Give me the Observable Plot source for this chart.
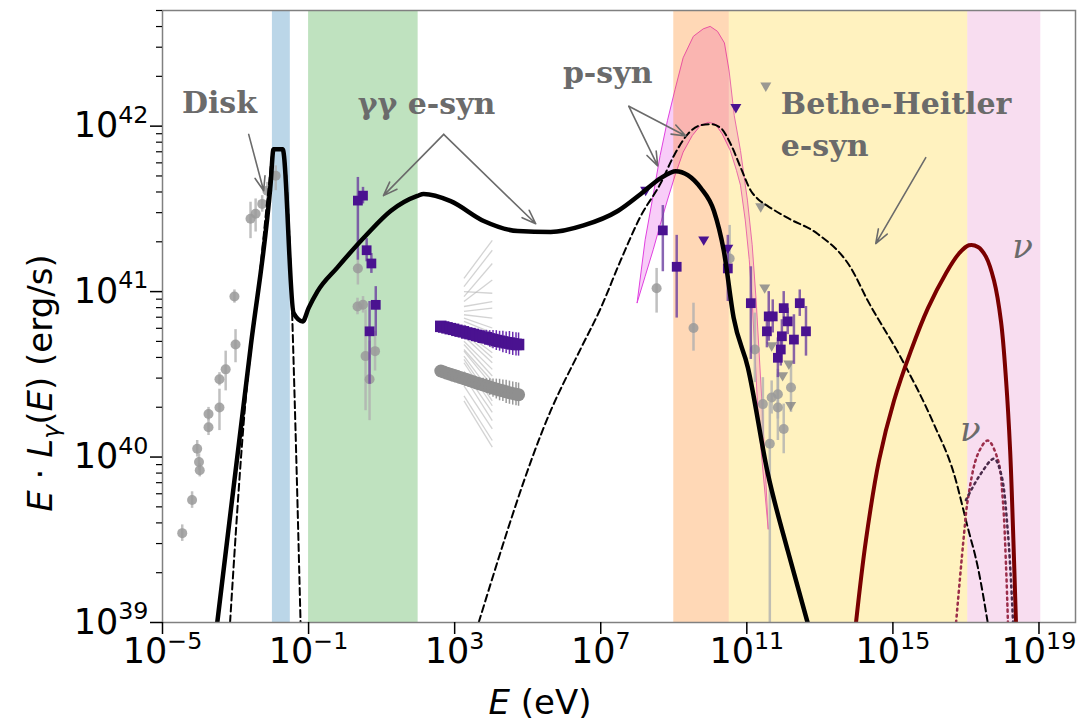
<!DOCTYPE html>
<html><head><meta charset="utf-8">
<script src="https://cdn.jsdelivr.net/npm/d3@7"></script>
<script src="https://cdn.jsdelivr.net/npm/@observablehq/plot@0.6"></script>
<style>body{margin:0;background:#fff;}</style>
</head><body><div id="chart"></div>
<script>
// ---- data (log10 E [eV], log10 E·L [erg/s]) ----
const xTicks = [1e-5, 1e-1, 1e3, 1e7, 1e11, 1e15, 1e19];
const yMajor = [1e39, 1e40, 1e41, 1e42];
const yMinor = [39, 40, 41, 42].flatMap(p => [2,3,4,5,6,7,8,9].map(m => m * 10 ** p)).filter(v => v <= 5e42);

const bandStart = [-1.99, -1.0, 9.0, 10.52, 17.05];
const bandEnd   = [-1.5, 2.0, 10.52, 17.05, 19.05];
const bandColor = ["#1f77b4", "#2ca02c", "#ff7f0e", "#ffd42a", "#e377c2"];
const bandAlpha = [0.3, 0.3, 0.3, 0.3, 0.25];

const totalCurve = [[-3.50,39.0],[-3.055,39.815],[-2.589,40.66],[-2.04,41.65],[-1.96,41.86],[-1.71,41.86],[-1.41,40.87],[-1.16,40.82],[-1.0,40.90],[-0.76,41.0],[-0.214,41.145],[0.608,41.348],[1.247,41.487],[1.978,41.578],[2.15,41.59],[2.89,41.547],[3.795,41.427],[4.726,41.366],[5.63,41.36],[6.53,41.40],[7.466,41.487],[8.096,41.59],[8.644,41.686],[9.055,41.728],[9.384,41.704],[9.74,41.626],[10.10,41.487],[10.37,41.246],[10.64,40.841],[11.03,40.54],[11.575,39.90],[12.12,39.435],[12.67,38.995]];
const diskCurve = [[-3.15,39.0],[-2.726,40.34],[-2.37,41.03],[-2.10,41.61],[-1.96,41.86],[-1.71,41.86],[-1.47,41.0],[-1.38,40.34],[-1.22,39.0]];
const hadronCurve = [[3.658,39.0],[5.63,40.28],[6.45,40.654],[7.0,40.90],[7.548,41.19],[8.096,41.457],[8.644,41.656],[9.0,41.82],[9.384,41.952],[9.74,42.006],[10.01,42.012],[10.29,41.988],[10.56,41.891],[10.836,41.747],[11.11,41.61],[11.30,41.56],[11.575,41.517],[12.12,41.445],[12.945,41.348],[13.85,41.143],[14.315,40.944],[15.22,40.60],[16.12,40.20],[16.67,39.90],[17.05,39.574],[17.33,39.33],[17.60,38.995]];
const nuCurve = [[13.99,39.0],[14.26,39.495],[14.62,39.98],[15.03,40.34],[15.49,40.64],[15.96,40.90],[16.45,41.11],[16.81,41.23],[17.08,41.28],[17.33,41.27],[17.55,41.21],[17.77,41.065],[17.96,40.82],[18.10,40.46],[18.21,40.04],[18.29,39.56],[18.37,39.0]];
const nuDottedA = [[16.73,39.0],[16.95,39.54],[17.05,39.74],[17.33,40.02],[17.60,40.10],[17.88,39.98],[18.01,39.74],[18.10,39.33],[18.15,39.0]];
const nuDottedB = [[17.0,39.74],[17.41,39.90],[17.77,39.99],[17.96,39.90],[18.15,39.54],[18.29,39.0]];

const psynUpper = [[8.01,40.93],[8.23,41.31],[8.45,41.58],[8.64,41.82],[8.84,42.03],[9.05,42.22],[9.27,42.41],[9.55,42.54],[9.82,42.585],[10.01,42.60],[10.21,42.57],[10.40,42.50],[10.53,42.33],[10.67,42.06],[10.84,41.85],[11.03,41.55],[11.16,41.28],[11.27,40.94],[11.44,40.28],[11.60,39.56]];
const psynLower = [[8.01,40.93],[8.23,41.09],[8.45,41.25],[8.64,41.40],[8.84,41.55],[9.05,41.70],[9.27,41.84],[9.52,41.94],[9.74,42.0],[9.96,42.02],[10.15,42.01],[10.34,41.95],[10.56,41.85],[10.73,41.73],[10.84,41.64],[10.97,41.43],[11.08,41.19],[11.16,40.94],[11.33,40.22],[11.60,39.56]];

// points: [logE, logL, errDown, errUp]
const grayCircles = [[-4.46,39.54,0.05,0.05],[-4.19,39.74,0.05,0.05],[-4.05,40.05,0.05,0.05],[-4.0,39.97,0.05,0.05],[-3.98,39.92,0.04,0.04],[-3.74,40.26,0.04,0.04],[-3.74,40.18,0.05,0.05],[-3.44,40.30,0.14,0.11],[-3.44,40.47,0.04,0.04],[-3.27,40.53,0.13,0.11],[-3.0,40.68,0.11,0.09],[-3.03,40.97,0.04,0.04],[-2.59,41.44,0.12,0.1],[-2.45,41.47,0.11,0.09],[-2.27,41.53,0.05,0.05],[-2.13,41.61,0.05,0.05],[-1.90,41.70,0.09,0.06],
  [0.35,41.14,0.1,0.1],[0.34,40.91,0.05,0.05],[0.49,40.92,0.05,0.05],[0.56,40.61,0.33,0.28],[0.82,40.64,0.12,0.12],[0.67,40.47,0.25,0.23],
  [8.53,41.02,0.15,0.12],[9.54,40.78,0.14,0.15],[10.53,41.20,0.03,0.2],[11.22,40.65,0.2,0.22],[11.44,40.32,0.21,0.16],[11.68,40.36,0.1,0.1],[11.85,40.38,0.15,0.15],[11.85,40.30,0.2,0.2],[12.21,40.42,0.15,0.15],[12.01,40.17,0.15,0.15],[11.63,40.08,1.2,0.25]];
const grayTriangles = [[11.52,42.24],[11.38,41.51],[11.49,41.02],[11.68,40.67],[12.15,40.56],[11.98,40.49],[12.20,40.31]];
const purpleSquares = [[0.35,41.55,0.36,0.14],[0.49,41.58,0.05,0.05],[0.59,41.25,0.07,0.07],[0.72,41.17,0.06,0.06],[0.84,40.92,0.19,0.11],[0.67,40.76,0.32,0.18],
  [8.70,41.37,0.25,0.15],[9.08,41.15,0.31,0.19],[10.48,41.14,0.2,0.2],[11.11,40.93,0.34,0.22],[11.60,40.85,0.15,0.15],[11.71,40.85,0.1,0.1],[11.55,40.76,0.1,0.1],[12.01,40.90,0.1,0.1],[12.12,40.82,0.08,0.08],[11.96,40.73,0.1,0.1],[12.45,40.93,0.08,0.08],[12.29,40.71,0.15,0.15],[12.62,40.76,0.15,0.15],[11.93,40.65,0.1,0.1],[11.85,40.60,0.12,0.12]];
const purpleTriangles = [[8.23,41.61],[9.82,41.31],[10.48,41.26],[10.70,42.11]];

const xrayPurple = [[2.62,40.79,0.015],[2.70,40.786,0.015],[2.79,40.781,0.015],[2.88,40.776,0.015],[2.97,40.772,0.02],[3.06,40.766,0.02],[3.15,40.761,0.02],[3.24,40.757,0.02],[3.33,40.750,0.025],[3.42,40.746,0.025],[3.51,40.741,0.03],[3.60,40.735,0.03],[3.69,40.731,0.035],[3.78,40.724,0.04],[3.87,40.721,0.045],[3.96,40.714,0.05],[4.05,40.710,0.055],[4.14,40.704,0.06],[4.23,40.700,0.06],[4.32,40.696,0.065],[4.41,40.691,0.065],[4.50,40.689,0.07],[4.59,40.684,0.07],[4.68,40.681,0.07],[4.75,40.680,0.07]];
const xrayGray = [[2.62,40.52,0.015],[2.70,40.514,0.015],[2.79,40.507,0.015],[2.88,40.501,0.015],[2.97,40.494,0.02],[3.06,40.488,0.02],[3.15,40.481,0.02],[3.24,40.475,0.02],[3.33,40.468,0.025],[3.42,40.461,0.025],[3.51,40.455,0.03],[3.60,40.448,0.03],[3.69,40.442,0.035],[3.78,40.436,0.04],[3.87,40.430,0.045],[3.96,40.423,0.05],[4.05,40.417,0.055],[4.14,40.411,0.06],[4.23,40.405,0.065],[4.32,40.400,0.065],[4.41,40.394,0.07],[4.50,40.389,0.07],[4.59,40.384,0.07],[4.68,40.380,0.07],[4.75,40.377,0.07]];
// X-ray bow-tie spectra: logL at start and end energies
const bowtieStart = [41.08,41.03,40.94,40.97,41.00,40.91,40.88,40.86,40.84,40.82,40.80,40.79,40.76,40.75,40.73,40.70,40.68,40.65,40.64,40.61,40.59,40.57,40.52,40.49,40.43,40.37,40.34];
const bowtieEnd   = [41.31,41.25,41.07,41.17,40.99,40.94,40.90,40.84,40.78,40.75,40.70,40.66,40.63,40.60,40.57,40.53,40.49,40.46,40.43,40.38,40.34,40.31,40.27,40.22,40.17,40.10,40.06];
const bowtieE = [3.255, 4.03];

const labelsMid = [
  {t: "Disk", e: -3.44, l: 42.14},
  {t: "γγ e-syn", e: 2.23, l: 42.13},
  {t: "p-syn", e: 7.19, l: 42.32}
];
const labelsStart = [
  {t: "Bethe-Heitler", e: 11.93, l: 42.13},
  {t: "e-syn", e: 11.93, l: 41.88}
];
const nuLabels = [{t: "ν", e: 18.55, l: 41.27}, {t: "ν", e: 17.12, l: 40.16}];
const arrows = [
  [-2.64,41.95,-2.23,41.61],
  [2.70,41.95,1.05,41.58],
  [2.70,41.95,5.22,41.41],
  [7.77,42.12,8.56,41.76],
  [7.77,42.12,9.33,41.94],
  [15.90,41.81,14.53,41.29]
];

// ---- helpers ----
const P = a => a.map(([e, l]) => ({E: 10 ** e, L: 10 ** l}));
const PE = a => a.map(([e, l, dn, up]) => ({E: 10 ** e, L: 10 ** l, lo: 10 ** (l - dn), hi: 10 ** (l + (up ?? dn))}));
const bands = bandStart.map((s, i) => ({x1: 10 ** s, x2: 10 ** bandEnd[i], c: bandColor[i], a: bandAlpha[i]}));
const psyn = psynUpper.map((u, i) => ({xa: 10 ** u[0], ya: 10 ** u[1], xb: 10 ** psynLower[i][0], yb: 10 ** psynLower[i][1]}));
const bowtie = bowtieStart.map((s, i) => ({x1: 10 ** bowtieE[0], y1: 10 ** s, x2: 10 ** bowtieE[1], y2: 10 ** bowtieEnd[i]}));
const arrowData = arrows.map(([a, b, c, d]) => ({x1: 10 ** a, y1: 10 ** b, x2: 10 ** c, y2: 10 ** d}));
const triDown = {draw(ctx, size) { const s = Math.sqrt(size) * 0.62; ctx.moveTo(-s, -s * 0.7); ctx.lineTo(s, -s * 0.7); ctx.lineTo(0, s * 1.0); ctx.closePath(); }};
const fmt = d => "10^" + Math.round(Math.log10(d));

const purple = "#4a1290";
const grayPt = "#9a9a9a";
const annot = {fill: "#6b6b6b", fontFamily: "DejaVu Serif", fontWeight: "bold", fontSize: 30};

const chart = Plot.plot({
  width: 1080, height: 723,
  marginLeft: 162, marginRight: 5, marginTop: 10, marginBottom: 101,
  style: {fontFamily: "DejaVu Sans", background: "white", overflow: "visible"},
  x: {type: "log", domain: [1e-5, 1e20]},
  y: {type: "log", domain: [1e39, 5e42]},
  marks: [
    Plot.area(psyn, {x1: "xa", y1: "ya", x2: "xb", y2: "yb", fill: "violet", fillOpacity: 0.4, stroke: "#e040e0", strokeWidth: 1}),
    ...bands.map(b => Plot.rect([b], {x1: "x1", x2: "x2", y1: 1e39, y2: 5e42, fill: b.c, fillOpacity: b.a})),
    Plot.link(bowtie, {x1: "x1", y1: "y1", x2: "x2", y2: "y2", stroke: "#b5b5b5", strokeOpacity: 0.6, strokeWidth: 1.3}),
    Plot.ruleX(PE(grayCircles), {x: "E", y1: "lo", y2: "hi", stroke: "#b0b0b0", strokeWidth: 2.5, strokeOpacity: 0.8, clip: true}),
    Plot.dot(PE(grayCircles), {x: "E", y: "L", r: 5, fill: grayPt, fillOpacity: 0.85}),
    Plot.dot(P(grayTriangles), {x: "E", y: "L", r: 5, symbol: triDown, fill: "#8a8a8a", fillOpacity: 0.85}),
    Plot.ruleX(PE(xrayGray), {x: "E", y1: "lo", y2: "hi", stroke: "#999", strokeWidth: 1.5}),
    Plot.dot(P(xrayGray), {x: "E", y: "L", r: 6.5, fill: "#8f8f8f"}),
    Plot.ruleX(PE(purpleSquares), {x: "E", y1: "lo", y2: "hi", stroke: "#6b3fa0", strokeWidth: 2.5, strokeOpacity: 0.8}),
    Plot.dot(PE(purpleSquares), {x: "E", y: "L", r: 5.5, symbol: "square", fill: purple}),
    Plot.dot(P(purpleTriangles), {x: "E", y: "L", r: 5, symbol: triDown, fill: purple}),
    Plot.ruleX(PE(xrayPurple), {x: "E", y1: "lo", y2: "hi", stroke: "#6a2cb0", strokeWidth: 1.5}),
    Plot.dot(P(xrayPurple), {x: "E", y: "L", r: 6.5, symbol: "square", fill: purple}),
    Plot.line(P(totalCurve), {x: "E", y: "L", stroke: "black", strokeWidth: 4.5, curve: "monotone-x", clip: true}),
    Plot.line(P(diskCurve), {x: "E", y: "L", stroke: "black", strokeWidth: 2, strokeDasharray: "7,4", curve: "monotone-x", clip: true}),
    Plot.line(P(hadronCurve), {x: "E", y: "L", stroke: "black", strokeWidth: 2, strokeDasharray: "7,4", curve: "monotone-x", clip: true}),
    Plot.line(P(nuCurve), {x: "E", y: "L", stroke: "#7a0000", strokeWidth: 4, curve: "catmull-rom", clip: true}),
    Plot.line(P(nuDottedA), {x: "E", y: "L", stroke: "#9b2d4a", strokeWidth: 2.5, strokeDasharray: "2,4", curve: "catmull-rom", clip: true}),
    Plot.line(P(nuDottedB), {x: "E", y: "L", stroke: "#4a2a4a", strokeWidth: 2.5, strokeDasharray: "2,4", curve: "catmull-rom", clip: true}),
    Plot.arrow(arrowData, {x1: "x1", y1: "y1", x2: "x2", y2: "y2", stroke: "#6b6b6b", strokeWidth: 1.6, headLength: 14, headAngle: 40}),
    Plot.text(labelsMid, {x: d => 10 ** d.e, y: d => 10 ** d.l, text: "t", textAnchor: "middle", ...annot}),
    Plot.text(labelsStart, {x: d => 10 ** d.e, y: d => 10 ** d.l, text: "t", textAnchor: "start", ...annot}),
    Plot.text(nuLabels, {x: d => 10 ** d.e, y: d => 10 ** d.l, text: "t", fill: "#6b6b6b", fontFamily: "DejaVu Serif", fontStyle: "italic", fontSize: 34}),
    Plot.frame({stroke: "#808080", strokeWidth: 1.5}),
    Plot.axisX({ticks: xTicks, tickSize: 12, tickPadding: 4, tickFormat: fmt, fontSize: 35, label: null, color: "black", strokeWidth: 1.5}),
    Plot.axisY({ticks: yMajor, tickSize: 12, tickPadding: 2, tickFormat: fmt, fontSize: 35, label: null, color: "black", strokeWidth: 1.5}),
    Plot.axisY({ticks: yMinor, tickSize: 6, tickFormat: () => "", label: null, color: "black", strokeWidth: 1.2})
  ]
});
document.getElementById("chart").appendChild(chart);

const svg = d3.select(chart);
svg.selectAll('g[aria-label="x-axis tick label"] text, g[aria-label="y-axis tick label"] text').each(function() {
  const t = d3.select(this); const s = t.text();
  if (!s.includes("^")) return;
  const [b, e] = s.split("^");
  t.text(null);
  t.append("tspan").text(b);
  t.append("tspan").attr("font-size", "0.68em").attr("dy", "-0.62em").text(e.replace("-", "−"));
});
const xl = svg.append("text").attr("x", 540).attr("y", 714).attr("text-anchor", "middle")
  .attr("font-family", "DejaVu Sans").attr("font-size", 34).attr("fill", "black");
xl.append("tspan").attr("font-style", "italic").text("E");
xl.append("tspan").text(" (eV)");
const yl = svg.append("text").attr("transform", "translate(52,383) rotate(-90)").attr("text-anchor", "middle")
  .attr("font-family", "DejaVu Sans").attr("font-size", 34).attr("fill", "black");
yl.append("tspan").attr("font-style", "italic").text("E");
yl.append("tspan").text(" · ");
yl.append("tspan").attr("font-style", "italic").text("L");
yl.append("tspan").attr("font-style", "italic").attr("font-size", "0.7em").attr("dy", "0.3em").text("γ");
yl.append("tspan").attr("dy", "-0.21em").text("(");
yl.append("tspan").attr("font-style", "italic").text("E");
yl.append("tspan").text(") (erg/s)");
</script></body></html>
